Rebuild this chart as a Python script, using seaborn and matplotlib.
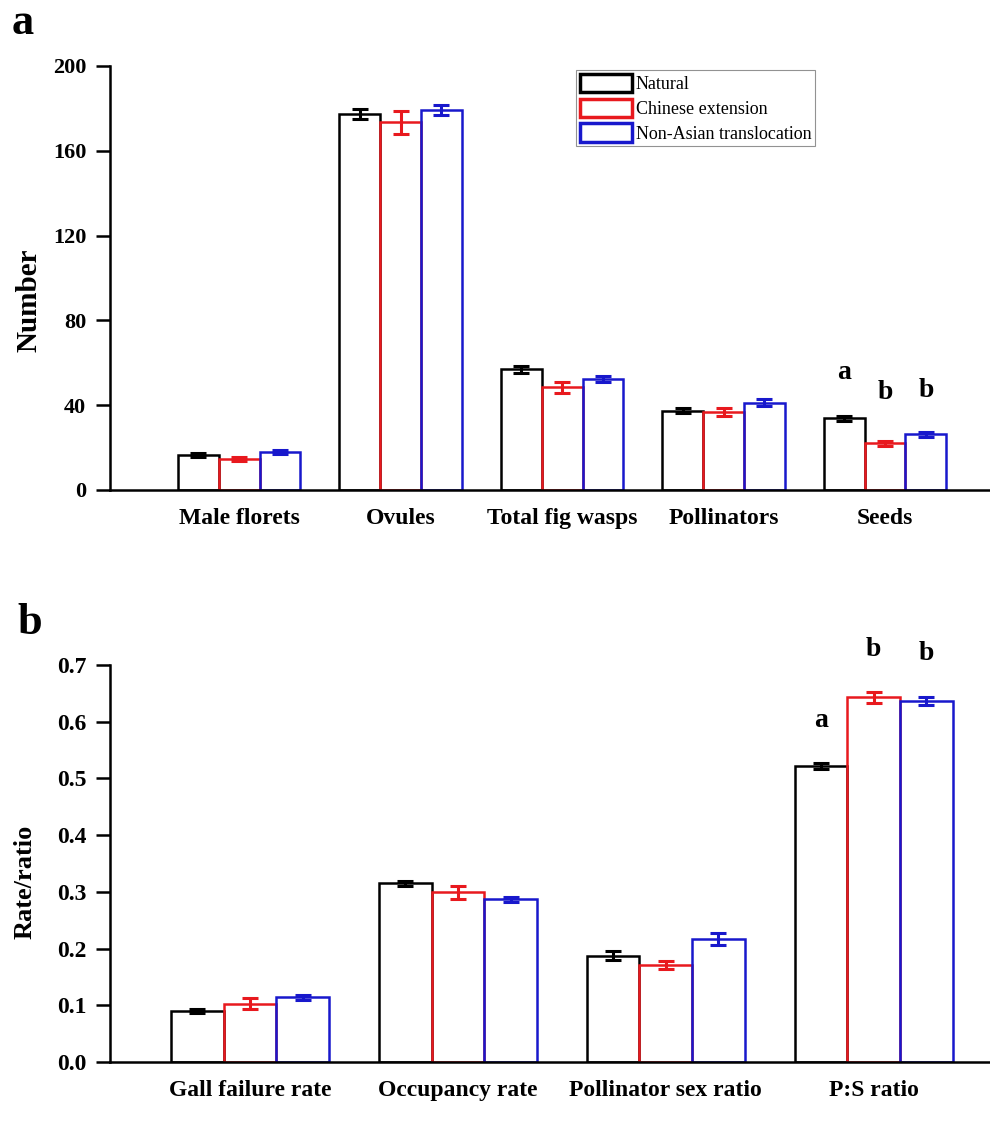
import pandas as pd
import matplotlib.pyplot as plt
import seaborn as sns

# Datos (medias y errores estándar)
grupos = ["Natural", "Chinese extension", "Non-Asian translocation"]
colores = ["#000000", "#e8191e", "#1818cc"]

cat_a = ["Male florets", "Ovules", "Total fig wasps", "Pollinators", "Seeds"]
natural_a = [16.5, 177.4, 56.9, 37.4, 33.8]
chinese_a = [14.5, 173.4, 48.4, 36.9, 22.0]
nonasian_a = [18.0, 179.2, 52.4, 41.2, 26.3]
err_natural_a = [1.0, 2.2, 1.6, 1.2, 1.2]
err_chinese_a = [1.0, 5.5, 2.6, 2.0, 1.2]
err_nonasian_a = [1.0, 2.2, 1.5, 1.5, 1.2]
letras_a = ["a", "b", "b"]
letras_y_a = [55.5, 46.0, 47.0]

cat_b = ["Gall failure rate", "Occupancy rate", "Pollinator sex ratio", "P:S ratio"]
natural_b = [0.090, 0.315, 0.187, 0.522]
chinese_b = [0.103, 0.299, 0.171, 0.643]
nonasian_b = [0.114, 0.287, 0.217, 0.636]
err_natural_b = [0.003, 0.005, 0.008, 0.005]
err_chinese_b = [0.009, 0.011, 0.007, 0.010]
err_nonasian_b = [0.004, 0.004, 0.010, 0.007]
letras_b = ["a", "b", "b"]
letras_y_b = [0.603, 0.727, 0.720]

sns.set_theme(style="ticks")
plt.rcParams["font.family"] = ["Liberation Serif", "DejaVu Serif"]
plt.rcParams["text.color"] = "black"
plt.rcParams["axes.labelcolor"] = "black"
plt.rcParams["xtick.color"] = "black"
plt.rcParams["ytick.color"] = "black"


def tabla(categorias, series):
    filas = []
    for g, valores in zip(grupos, series):
        for c, v in zip(categorias, valores):
            filas.append({"categoria": c, "grupo": g, "valor": v})
    return pd.DataFrame(filas)


def panel(ax, categorias, series, errores, letras, letras_y, ylim, yticks, ylabel,
          xlim, fmt, ylab_size, ytick_size):
    df = tabla(categorias, series)
    sns.barplot(data=df, x="categoria", y="valor", hue="grupo", hue_order=grupos,
                order=categorias, palette=colores, fill=False, width=0.76, gap=0,
                linewidth=1.8, ax=ax)
    # barras de error sobre el centro de cada barra
    centros = []
    for cont, errs, col in zip(ax.containers, errores, colores):
        barras = sorted(cont.patches, key=lambda p: p.get_x())
        xs = [p.get_x() + p.get_width() / 2 for p in barras]
        ys = [p.get_height() for p in barras]
        ax.errorbar(xs, ys, yerr=errs, fmt="none", ecolor=col, elinewidth=2.2,
                    capsize=6, capthick=2.2, zorder=5)
        centros.append(xs[-1])
    # letras de significancia en la última categoría
    for x, y, t in zip(centros, letras_y, letras):
        ax.text(x, y, t, ha="center", va="center", fontsize=20, fontweight="bold",
                clip_on=False)
    ax.set_ylim(*ylim)
    ax.set_yticks(yticks)
    ax.set_yticklabels([fmt.format(v) for v in yticks])
    ax.set_xlim(*xlim)
    ax.set_xlabel("")
    ax.set_ylabel(ylabel, fontsize=ylab_size, fontweight="bold")
    sns.despine(ax=ax)
    for s in ["left", "bottom"]:
        ax.spines[s].set_linewidth(1.8)
        ax.spines[s].set_color("black")
    ax.tick_params(axis="y", length=10, width=1.8, pad=7, labelsize=ytick_size)
    ax.tick_params(axis="x", length=0, pad=13, labelsize=17)
    for lab in ax.get_xticklabels() + ax.get_yticklabels():
        lab.set_fontweight("bold")


fig = plt.figure(figsize=(9.9, 11.35), dpi=100)
ax_a = fig.add_axes([0.111, 0.5683, 0.889, 0.3736])
ax_b = fig.add_axes([0.111, 0.0643, 0.889, 0.3498])

panel(ax_a, cat_a, [natural_a, chinese_a, nonasian_a],
      [err_natural_a, err_chinese_a, err_nonasian_a], letras_a, letras_y_a,
      (0, 200), [0, 40, 80, 120, 160, 200], "Number", (-0.80, 4.65), "{:.0f}", 21, 16)
ax_a.yaxis.set_label_coords(-0.077, 0.448)
sns.move_legend(ax_a, loc="upper left", bbox_to_anchor=(0.53, 0.99), title=None,
                frameon=True, fancybox=False, fontsize=13, handlelength=2.9,
                handleheight=1.2, handletextpad=0.2, labelspacing=0.3,
                borderpad=0.2, borderaxespad=0)
leg = ax_a.get_legend()
leg.get_frame().set_edgecolor("#777777")
leg.get_frame().set_linewidth(0.8)
for h in leg.legend_handles:
    h.set_linewidth(2.5)

panel(ax_b, cat_b, [natural_b, chinese_b, nonasian_b],
      [err_natural_b, err_chinese_b, err_nonasian_b], letras_b, letras_y_b,
      (0, 0.7), [0.0, 0.1, 0.2, 0.3, 0.4, 0.5, 0.6, 0.7], "Rate/ratio", (-0.674, 3.56),
      "{:.1f}", 19, 17)
ax_b.yaxis.set_label_coords(-0.083, 0.453)
ax_b.get_legend().remove()

fig.text(0.012, 0.980, "a", fontsize=32, fontweight="bold", va="center")
fig.text(0.018, 0.451, "b", fontsize=32, fontweight="bold", va="center")

fig.savefig("out.png", dpi=100)
